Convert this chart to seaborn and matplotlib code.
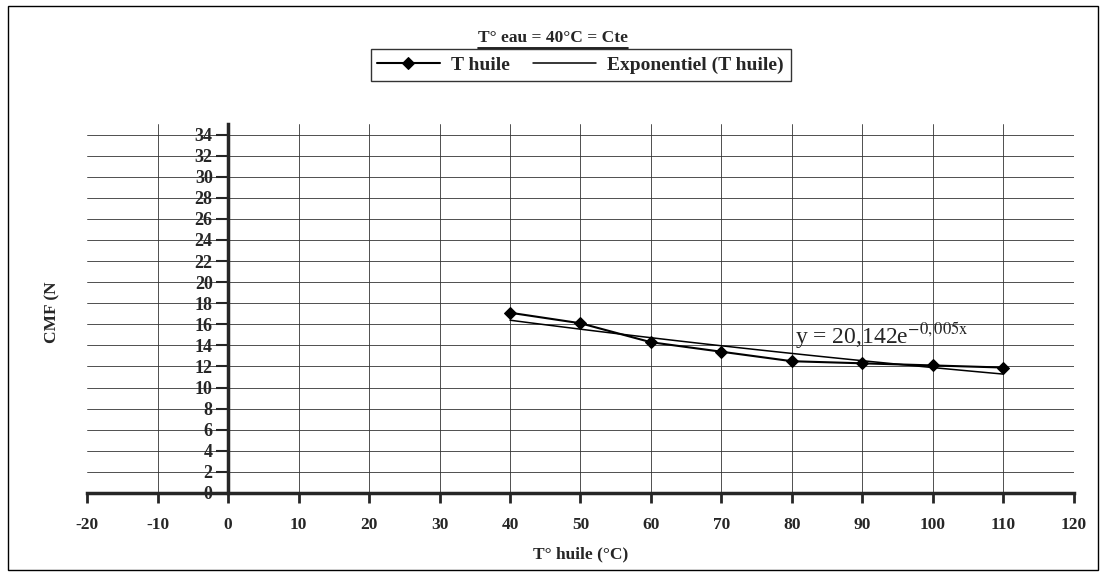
import numpy as np
import pandas as pd
import matplotlib
matplotlib.use("Agg")
import matplotlib.pyplot as plt
from matplotlib.lines import Line2D
from matplotlib.patches import Rectangle
import seaborn as sns

# ── Données ─────────────────────────────────────────────────────────────────
t_huile = [40, 50, 60, 70, 80, 90, 100, 110]
cmf = [17.1, 16.1, 14.3, 13.4, 12.5, 12.3, 12.1, 11.9]
x_ticks = list(range(-20, 121, 10))
y_ticks = list(range(0, 35, 2))
titre = "T° eau = 40°C = Cte"
equation = r"y = 20,142e$^{\mathrm{-0,005x}}$"

df = pd.DataFrame({"T": t_huile, "CMF": cmf})

# courbe de tendance exponentielle (ajustement sur ln y)
b, ln_a = np.polyfit(df["T"], np.log(df["CMF"]), 1)
x_fit = np.linspace(min(t_huile), max(t_huile), 100)
df_fit = pd.DataFrame({"T": x_fit, "CMF": np.exp(ln_a) * np.exp(b * x_fit)})

# ── Style ───────────────────────────────────────────────────────────────────
sns.set_style("white")
plt.rcParams["font.family"] = ["Liberation Serif", "DejaVu Serif"]
plt.rcParams["mathtext.fontset"] = "stix"
plt.rcParams["axes.unicode_minus"] = False

fig = plt.figure(figsize=(11.06, 5.76), dpi=100)
ax = fig.add_axes([0.0787, 0.1441, 0.8923, 0.6406])

sns.lineplot(data=df, x="T", y="CMF", ax=ax, color="black", lw=1.5,
             marker="D", markersize=6, markeredgecolor="black",
             label="T huile")
sns.lineplot(data=df_fit, x="T", y="CMF", ax=ax, color="black", lw=1.1,
             label="Exponentiel (T huile)")

ax.set_xlim(-20, 120)
ax.set_ylim(0, 35)
ax.set_xticks(x_ticks)
ax.set_yticks(y_ticks)
ax.grid(True, color="0.2", lw=0.6)
ax.set_axisbelow(True)

# axes croisés en (0, 0)
ax.spines["left"].set_position(("data", 0))
ax.spines["left"].set_linewidth(2.5)
ax.spines["bottom"].set_linewidth(2.5)
ax.spines["top"].set_visible(False)
ax.spines["right"].set_visible(False)
ax.tick_params(axis="x", bottom=True, direction="out", length=7, width=2,
               labelsize=12.5, pad=10)
ax.tick_params(axis="y", left=True, direction="out", length=9, width=1.5,
               labelsize=13, pad=2)
for lab in ax.get_xticklabels() + ax.get_yticklabels():
    lab.set_fontweight("bold")

ax.set_xlabel("T° huile (°C)", fontsize=12.5, fontweight="bold", labelpad=10)
ax.set_ylabel("")
fig.text(0.047, 0.458, "CMF (N", rotation=90, fontsize=12.5,
         fontweight="bold", ha="center", va="center")

ax.text(80.5, 14.9, equation, fontsize=17, ha="left", va="center",
        family="Liberation Serif")

leg = ax.legend(loc="center", bbox_to_anchor=(0.525, 0.887),
                bbox_transform=fig.transFigure, ncol=2, frameon=True,
                fancybox=False, edgecolor="black", borderpad=0.35,
                handlelength=3.2, handletextpad=0.6, columnspacing=1.2,
                prop={"family": "Liberation Serif", "weight": "bold",
                      "size": 14})
leg.get_frame().set_linewidth(1.0)

# titre souligné
t = fig.text(0.5, 0.934, titre, fontsize=12.5, fontweight="bold",
             ha="center", va="center")
fig.canvas.draw()

# pas de quadrillage vertical aux bords -20 et 120
gl = ax.xaxis.get_gridlines()
gl[0].set_visible(False)
gl[-1].set_visible(False)

bb = t.get_window_extent().transformed(fig.transFigure.inverted())
fig.add_artist(Line2D([bb.x0, bb.x1], [bb.y0 - 0.004, bb.y0 - 0.004],
                      color="black", lw=1.2))

# cadre de la zone de graphique
fig.add_artist(Rectangle((0.007, 0.01), 0.986, 0.98, fill=False,
                         edgecolor="black", lw=1.0,
                         transform=fig.transFigure))

fig.savefig("out.png", dpi=100)
